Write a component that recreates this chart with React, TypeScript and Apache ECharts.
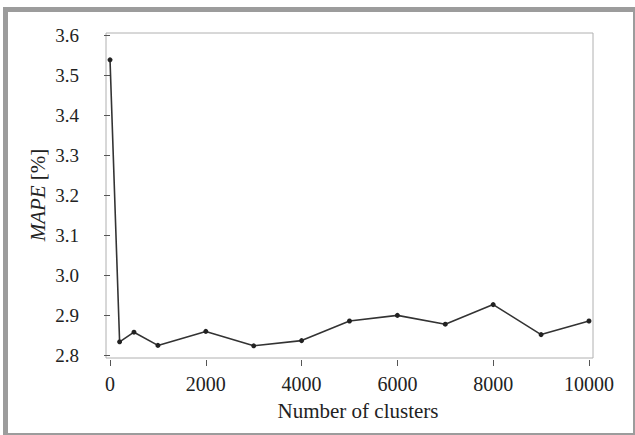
import React, { useEffect, useRef } from "react";
import * as echarts from "echarts";

// Number of clusters vs. mean absolute percentage error
const clusters = [0, 200, 500, 1000, 2000, 3000, 4000, 5000, 6000, 7000, 8000, 9000, 10000];
const mape = [3.538, 2.833, 2.857, 2.824, 2.859, 2.823, 2.836, 2.885, 2.899, 2.877, 2.926, 2.851, 2.885];

const xTicks = [0, 2000, 4000, 6000, 8000, 10000];
const yTicks = [2.8, 2.9, 3.0, 3.1, 3.2, 3.3, 3.4, 3.5, 3.6];

const FONT = "'Liberation Serif', 'Times New Roman', serif";

export default function App() {
  const ref = useRef<HTMLDivElement>(null);

  useEffect(() => {
    if (!ref.current) return;
    const chart = echarts.init(ref.current, null, { renderer: "svg" });
    chart.setOption({
      animation: false,
      backgroundColor: "#ffffff",
      graphic: [
        // grey frame, heavier on the top and left edges
        {
          type: "rect",
          z: -10,
          silent: true,
          shape: { x: 3, y: 7, width: 632, height: 428 },
          style: { fill: "#9c9c9c" },
        },
        {
          type: "rect",
          z: -9,
          silent: true,
          shape: { x: 8, y: 12, width: 625, height: 421 },
          style: { fill: "#ffffff" },
        },
        // axis titles
        {
          type: "text",
          silent: true,
          x: 358,
          y: 411,
          style: {
            text: "Number of clusters",
            font: `21px ${FONT}`,
            fill: "#222",
            align: "center",
            verticalAlign: "middle",
          },
        },
        {
          type: "text",
          silent: true,
          x: 38,
          y: 195,
          rotation: Math.PI / 2,
          style: {
            text: "{i|MAPE} {n|[%]}",
            font: `21px ${FONT}`,
            fill: "#222",
            align: "center",
            verticalAlign: "middle",
            rich: {
              i: { font: `italic 21px ${FONT}`, fill: "#222" },
              n: { font: `21px ${FONT}`, fill: "#222" },
            },
          },
        },
      ],
      grid: {
        left: 106,
        top: 33,
        right: 42,
        bottom: 77,
        show: true,
        borderColor: "#b0b0b0",
        borderWidth: 1,
        backgroundColor: "transparent",
      },
      xAxis: {
        type: "value",
        min: -84,
        max: 10084,
        offset: 2,
        axisLine: { show: false },
        axisTick: {
          show: true,
          length: 6,
          lineStyle: { color: "#555" },
          customValues: xTicks,
        },
        axisLabel: {
          fontFamily: FONT,
          fontSize: 20,
          color: "#222",
          margin: 14,
          customValues: xTicks,
          formatter: (v: number) => String(v),
        },
        splitLine: { show: false },
      },
      yAxis: {
        type: "value",
        min: 2.7925,
        max: 3.605,
        offset: 2,
        axisLine: { show: false },
        axisTick: {
          show: true,
          length: 6,
          lineStyle: { color: "#555" },
          customValues: yTicks,
        },
        axisLabel: {
          fontFamily: FONT,
          fontSize: 19,
          color: "#222",
          margin: 25,
          customValues: yTicks,
          formatter: (v: number) => v.toFixed(1),
        },
        splitLine: { show: false },
      },
      series: [
        {
          type: "line",
          data: clusters.map((c, i) => [c, mape[i]]),
          lineStyle: { color: "#333", width: 1.6 },
          itemStyle: { color: "#222" },
          symbol: "circle",
          symbolSize: 5,
          showSymbol: true,
        },
      ],
    });
    return () => chart.dispose();
  }, []);

  return (
    <div
      ref={ref}
      style={{ position: "absolute", left: 0, top: 0, width: 635, height: 435 }}
    />
  );
}
